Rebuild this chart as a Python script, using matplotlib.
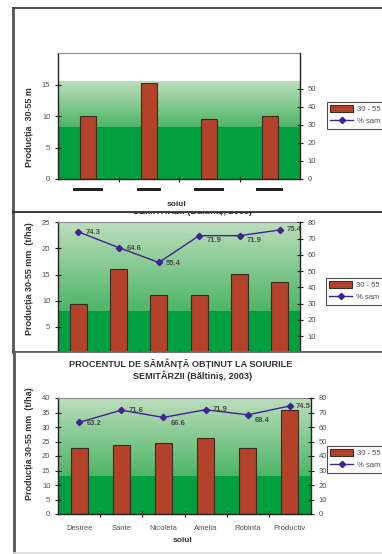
import numpy as np
import matplotlib
matplotlib.use("Agg")
import matplotlib.pyplot as plt
import matplotlib.transforms as mtransforms
from matplotlib.patches import Rectangle, Patch
from matplotlib.lines import Line2D

plt.rcParams['font.family'] = ['Liberation Sans', 'DejaVu Sans']

W, H = 382, 554

# ---- data -------------------------------------------------------------
early_yield = [10.0, 15.3, 9.6, 10.0]                 # t/ha, 30-55 mm fraction
early_label_widths = [0.50, 0.40, 0.50, 0.45]         # width of the blacked-out names

mid_yield = [9.4, 16.1, 11.0, 11.0, 15.1, 13.5]
mid_pct = [74.3, 64.6, 55.4, 71.9, 71.9, 75.4]

late_varieties = ['Desiree', 'Sante', 'Nicoleta', 'Amelia', 'Robinta', 'Productiv']
late_yield = [22.7, 23.8, 24.4, 26.1, 22.7, 35.8]
late_pct = [63.2, 71.6, 66.6, 71.9, 68.4, 74.5]

legend_labels = ['30 - 55 mm', '% sam']
title_l1 = 'PROCENTUL DE SĂMÂNȚĂ OBȚINUT LA SOIURILE'
title_l2 = 'SEMITÂRZII (Băltiniș, 2003)'
ylabel_full = 'Producția 30-55 mm  (t/ha)'
ylabel_short = 'Producția  30-55 m'

# ---- styling ----------------------------------------------------------
BAR = '#b4422a'
BAR_EDGE = '#3a2a22'
LINE = '#3f2390'
TICK_TXT = '#505050'
FS = 5.5

fig = plt.figure(figsize=(W / 100, H / 100), dpi=100)


def rect(x0, y0, x1, y1):
    return [x0 / W, 1 - y1 / H, (x1 - x0) / W, (y1 - y0) / H]


def fx(px):
    return px / W


def fy(py):
    return 1 - py / H


def panel_bg(x0, y0, x1, y1, z, bottom_color='#333333', top_color='#444444'):
    a = fig.add_axes(rect(x0, y0, x1, y1))
    a.set_zorder(z)
    a.set_facecolor('white')
    a.set_xticks([])
    a.set_yticks([])
    a.spines['right'].set_visible(False)
    a.spines['left'].set_color('#555555')
    a.spines['left'].set_linewidth(2.0)
    a.spines['top'].set_color(top_color)
    a.spines['top'].set_linewidth(1.3)
    a.spines['bottom'].set_color(bottom_color)
    a.spines['bottom'].set_linewidth(1.3)
    return a


def green_fill(ax, x0, x1, top, solid_frac):
    n = 600
    t = np.linspace(0, 1, n)
    solid = np.array([0.0, 0.63, 0.25])
    low = np.array([0.30, 0.71, 0.40])
    high = np.array([0.74, 0.87, 0.74])
    img = np.zeros((n, 1, 3))
    for i, v in enumerate(t):
        if v < solid_frac:
            img[i, 0] = solid
        else:
            f = (v - solid_frac) / (1 - solid_frac)
            img[i, 0] = low + (high - low) * f
    ax.imshow(img, origin='lower', extent=(x0, x1, 0, top), aspect='auto',
              interpolation='nearest', zorder=0)


def style_axes(ax, ax2, ymax, yticks, ymax2, yticks2, ncat):
    ax.set_xlim(-0.5, ncat - 0.5)
    ax.set_ylim(0, ymax)
    ax.set_yticks(yticks)
    ax2.set_ylim(0, ymax2)
    ax2.set_yticks(yticks2)
    ax.set_facecolor('white')
    for s in ('left', 'bottom'):
        ax.spines[s].set_color('#222222')
        ax.spines[s].set_linewidth(1.0)
    ax.spines['top'].set_color('#8a8a8a')
    ax.spines['top'].set_linewidth(0.8)
    ax.spines['right'].set_visible(False)
    for s in ('left', 'top', 'bottom'):
        ax2.spines[s].set_visible(False)
    ax2.spines['right'].set_color('#222222')
    ax2.spines['right'].set_linewidth(1.0)
    ax.tick_params(axis='y', direction='inout', length=5, width=0.8,
                   color='#222222', labelcolor=TICK_TXT, labelsize=FS, pad=3)
    ax2.tick_params(axis='y', direction='inout', length=5, width=0.8,
                    color='#222222', labelcolor=TICK_TXT, labelsize=FS, pad=3)
    bounds = np.arange(0.5, ncat - 0.5, 1.0)
    ax.set_xticks(bounds)
    ax.set_xticklabels([])
    ax.tick_params(axis='x', which='major', direction='inout', length=4,
                   width=0.8, color='#222222')


def add_legend(ax2, x, y):
    handles = [Patch(facecolor=BAR, edgecolor=BAR_EDGE, linewidth=0.8),
               Line2D([], [], color=LINE, marker='D', markersize=3.2,
                      linewidth=1.0)]
    leg = ax2.legend(handles, legend_labels, loc='upper left',
                     bbox_to_anchor=(fx(x), fy(y)),
                     bbox_transform=fig.transFigure, frameon=True,
                     fancybox=False, fontsize=FS, handlelength=3.0,
                     handleheight=0.9, borderpad=0.45, labelspacing=0.55,
                     handletextpad=0.5, borderaxespad=0)
    leg.get_frame().set_edgecolor('#222222')
    leg.get_frame().set_linewidth(0.8)
    for t in leg.get_texts():
        t.set_color(TICK_TXT)
    return leg


def label_points(ax2, values, offsets):
    for i, (v, (dx, dy)) in enumerate(zip(values, offsets)):
        ax2.annotate(f'{v:.1f}', (i, v), xytext=(dx, dy),
                     textcoords='offset pixels', ha='left', va='center',
                     fontsize=FS, fontweight='bold', color='#4a4a4a')


# ======== middle panel (drawn lowest) =================================
bg2 = panel_bg(13, 212, 392, 352, 0)
ax_m = fig.add_axes(rect(58, 222.5, 300, 352.5))
ax_m.set_zorder(1)
ax_m2 = ax_m.twinx()
ax_m2.set_zorder(2)
ax_m2.patch.set_visible(False)
n = len(mid_yield)
green_fill(ax_m, -0.5, n - 0.5, 25, 0.32)
ax_m.bar(np.arange(n), mid_yield, width=0.42, color=BAR, edgecolor=BAR_EDGE,
         linewidth=0.8, zorder=2)
ax_m2.plot(np.arange(n), mid_pct, color=LINE, marker='D', markersize=3.2,
           linewidth=1.0)
style_axes(ax_m, ax_m2, 25, [5, 10, 15, 20, 25], 80,
           [10, 20, 30, 40, 50, 60, 70, 80], n)
label_points(ax_m2, mid_pct, [(7, -1), (8, -1), (7, -1), (7, -5), (7, -5), (7, 0)])
add_legend(ax_m2, 326, 278)
bg2.text(fx(193), fy(198), title_l1, transform=fig.transFigure, ha='center',
         va='center', fontsize=6.6, fontweight='bold', color='#333333')
bg2.text(fx(193), fy(210.5), title_l2, transform=fig.transFigure, ha='center',
         va='center', fontsize=6.6, fontweight='bold', color='#333333')
bg2.text(fx(29), fy(279), ylabel_full, transform=fig.transFigure,
         rotation=90, ha='center', va='center', fontsize=6.5,
         fontweight='bold', color='#333333')

# ======== top panel ====================================================
bg1 = panel_bg(13, 8, 392, 212, 3)
ax_t = fig.add_axes(rect(58, 53, 300, 179))
ax_t.set_zorder(4)
ax_t2 = ax_t.twinx()
ax_t2.set_zorder(5)
ax_t2.patch.set_visible(False)
n = len(early_yield)
green_fill(ax_t, -0.5, n - 0.5, 15.6, 0.53)
ax_t.bar(np.arange(n), early_yield, width=0.27, color=BAR, edgecolor=BAR_EDGE,
         linewidth=0.8, zorder=2)
style_axes(ax_t, ax_t2, 20.1, [0, 5, 10, 15], 70, [0, 10, 20, 30, 40, 50], n)
blend = mtransforms.blended_transform_factory(ax_t.transData, ax_t.transAxes)
for i, w in enumerate(early_label_widths):
    ax_t.add_patch(Rectangle((i - w / 2, -0.098), w, 0.03, transform=blend,
                             facecolor='#222222', edgecolor='none',
                             clip_on=False))
add_legend(ax_t2, 327, 102)
bg1.text(fx(177), fy(204.5), 'soiul', transform=fig.transFigure, ha='center',
         va='center', fontsize=6, fontweight='bold', color='#333333')
bg1.text(fx(29), fy(127), ylabel_short, transform=fig.transFigure,
         rotation=90, ha='center', va='center', fontsize=6.5,
         fontweight='bold', color='#333333')

# ======== bottom panel =================================================
bg3 = panel_bg(14, 352, 392, 553, 6, bottom_color='#dddddd',
               top_color='#666666')
ax_b = fig.add_axes(rect(58, 398, 311, 514))
ax_b.set_zorder(7)
ax_b2 = ax_b.twinx()
ax_b2.set_zorder(8)
ax_b2.patch.set_visible(False)
n = len(late_yield)
green_fill(ax_b, -0.5, n - 0.5, 40, 0.33)
ax_b.bar(np.arange(n), late_yield, width=0.40, color=BAR, edgecolor=BAR_EDGE,
         linewidth=0.8, zorder=2)
ax_b2.plot(np.arange(n), late_pct, color=LINE, marker='D', markersize=3.2,
           linewidth=1.0)
style_axes(ax_b, ax_b2, 40, list(range(0, 41, 5)), 80, list(range(0, 81, 10)), n)
ax_b.set_xticks(np.arange(n), late_varieties, minor=True)
ax_b.tick_params(axis='x', which='minor', length=0, pad=8, labelsize=FS,
                 labelcolor=TICK_TXT)
label_points(ax_b2, late_pct, [(8, -1), (7, 0), (7, -6), (7, 0), (7, -6), (6, -1)])
add_legend(ax_b2, 327, 446)
bg3.text(fx(181), fy(364), title_l1, transform=fig.transFigure, ha='center',
         va='center', fontsize=6.6, fontweight='bold', color='#333333')
bg3.text(fx(193), fy(376), title_l2, transform=fig.transFigure, ha='center',
         va='center', fontsize=6.6, fontweight='bold', color='#333333')
bg3.text(fx(183), fy(540), 'soiul', transform=fig.transFigure, ha='center',
         va='center', fontsize=6, fontweight='bold', color='#333333')
bg3.text(fx(29), fy(444), ylabel_full, transform=fig.transFigure,
         rotation=90, ha='center', va='center', fontsize=6.5,
         fontweight='bold', color='#333333')

fig.savefig('out.png', dpi=100, facecolor='white')
